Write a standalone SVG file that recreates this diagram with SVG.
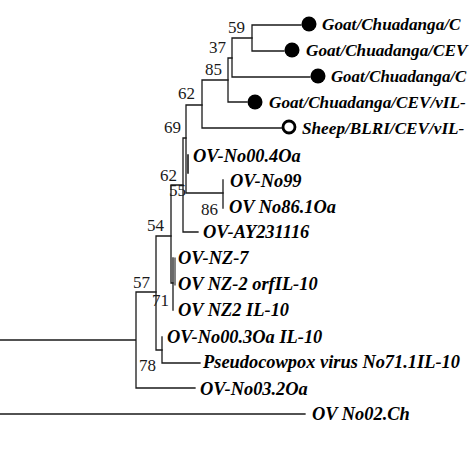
<svg xmlns="http://www.w3.org/2000/svg" width="474" height="474" viewBox="0 0 474 474">
<style>
.br{fill:none;stroke:#1a1a1a;stroke-width:1.3;stroke-linecap:square}
.lf{font-family:"Liberation Serif","Times New Roman",serif;font-size:18.4px;font-weight:bold;font-style:italic;fill:#000}
.tp{font-size:17.2px}
.bs{font-family:"Liberation Serif","Times New Roman",serif;font-size:17px;fill:#1a1a1a}
.dot{fill:#000}
.ring{fill:none;stroke:#000;stroke-width:2.8}
</style>
<rect width="474" height="474" fill="#fff"/>
<g id="connectors" class="br">
<path d="M0,340H136M136,292V388M136,292H156M136,388H195M0,414H305"/>
<path d="M156,236V350M156,236H171M156,350H162"/>
<path d="M162,337V363M162,363H200"/>
<path d="M171,185V283M171,185H183M171,283H173"/>
<path d="M173,258V310"/>
<path d="M175,258V285" style="stroke-width:1.1"/>
<path d="M183,138V232M183,232H198M183,138H186"/>
<path d="M186,105V193M186,193H223M186,105H202"/>
<path d="M188,155V173" style="stroke-width:1.6"/>
<path d="M223,180V208"/>
<path d="M202,80V128M202,80H228M202,128H282"/>
<path d="M228,58V102M228,58H232M228,102H247"/>
<path d="M232,38V77M232,38H252M232,77H310"/>
<path d="M252,25V51M252,25H301M252,51H284"/>
</g>
<g id="support">
<text class="bs" x="228" y="33">59</text>
<text class="bs" x="209" y="53">37</text>
<text class="bs" x="205" y="75">85</text>
<text class="bs" x="178" y="99">62</text>
<text class="bs" x="164" y="133">69</text>
<text class="bs" x="160" y="181">62</text>
<text class="bs" x="169" y="196">55</text>
<text class="bs" x="201" y="215">86</text>
<text class="bs" x="147" y="231">54</text>
<text class="bs" x="133" y="288">57</text>
<text class="bs" x="152" y="306">71</text>
<text class="bs" x="139" y="371">78</text>
</g>
<g id="leaf-goat1"><circle class="dot" cx="309" cy="24" r="7.5"/><text class="lf tp" x="322" y="30">Goat/Chuadanga/C</text></g>
<g id="leaf-goat2"><circle class="dot" cx="292" cy="50" r="7.5"/><text class="lf tp" x="306" y="56">Goat/Chuadanga/CEV</text></g>
<g id="leaf-goat3"><circle class="dot" cx="318" cy="76" r="7.5"/><text class="lf tp" x="331" y="82" style="font-size:16.8px">Goat/Chuadanga/C</text></g>
<g id="leaf-goat4"><circle class="dot" cx="255" cy="102" r="7.5"/><text class="lf tp" x="269" y="108">Goat/Chuadanga/CEV/vIL-</text></g>
<g id="leaf-sheep"><circle class="ring" cx="289" cy="127" r="6"/><text class="lf tp" x="302" y="134">Sheep/BLRI/CEV/vIL-</text></g>
<g id="leaf-no004"><text class="lf" x="193" y="162">OV-No00.4Oa</text></g>
<g id="leaf-no99"><text class="lf" x="230" y="187">OV-No99</text></g>
<g id="leaf-no861"><text class="lf" x="229" y="213">OV No86.1Oa</text></g>
<g id="leaf-ay"><text class="lf" x="203" y="238">OV-AY231116</text></g>
<g id="leaf-nz7"><text class="lf" x="178" y="264">OV-NZ-7</text></g>
<g id="leaf-nz2orf"><text class="lf" x="178" y="290">OV NZ-2 orfIL-10</text></g>
<g id="leaf-nz2"><text class="lf" x="178" y="316">OV NZ2 IL-10</text></g>
<g id="leaf-no003"><text class="lf" x="167" y="343">OV-No00.3Oa IL-10</text></g>
<g id="leaf-pcpv"><text class="lf" x="203" y="368">Pseudocowpox virus No71.1IL-10</text></g>
<g id="leaf-no032"><text class="lf" x="200" y="395">OV-No03.2Oa</text></g>
<g id="leaf-no02"><text class="lf" x="312" y="420">OV No02.Ch</text></g>
</svg>
